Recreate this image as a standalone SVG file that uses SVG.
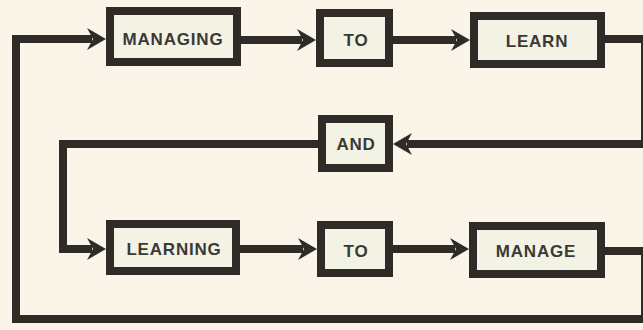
<svg xmlns="http://www.w3.org/2000/svg" width="643" height="330" viewBox="0 0 643 330">
<style>
.bg{fill:#fbf4e8}
.box{fill:#f3f3e5;stroke:#2f2b27;stroke-width:8}
.lbl{font-family:"Liberation Sans",Arial,sans-serif;font-weight:bold;font-size:17px;letter-spacing:0.8px;fill:#3b3936;text-anchor:middle}
.wire{fill:none;stroke:#2f2b27;stroke-width:8;stroke-linejoin:miter;stroke-linecap:butt}
.head{fill:#2f2b27}
</style>
<defs>
<path id="ah" d="M0,0 L-19,-11 L-13,0 L-19,11 Z"/>
</defs>
<rect class="bg" x="0" y="0" width="643" height="330"/>
<g id="connectors">
<path class="wire" d="M92,39 L16,39 L16,319 L645,319 L645,251 L605,251"/>
<path class="wire" d="M241,40 L302,40"/>
<path class="wire" d="M393,40 L456,40"/>
<path class="wire" d="M605,39 L645,39 L645,144 L407,144"/>
<path class="wire" d="M318,144 L63,144 L63,249 L92,249"/>
<path class="wire" d="M240,249 L303,249"/>
<path class="wire" d="M393,249 L455,249"/>
<use href="#ah" class="head" transform="translate(106,39)"/>
<use href="#ah" class="head" transform="translate(316,40)"/>
<use href="#ah" class="head" transform="translate(470,40)"/>
<use href="#ah" class="head" transform="translate(393,144) rotate(180)"/>
<use href="#ah" class="head" transform="translate(106,249)"/>
<use href="#ah" class="head" transform="translate(317,249)"/>
<use href="#ah" class="head" transform="translate(469,249)"/>
</g>
<g id="managing">
<rect class="box" x="110" y="11" width="127" height="51"/>
<text class="lbl" x="173" y="45">MANAGING</text>
</g>
<g id="to1">
<rect class="box" x="320" y="13" width="69" height="50"/>
<text class="lbl" x="356" y="46">TO</text>
</g>
<g id="learn">
<rect class="box" x="474" y="16" width="127" height="48"/>
<text class="lbl" x="537" y="47">LEARN</text>
</g>
<g id="and">
<rect class="box" x="322" y="119" width="67" height="49"/>
<text class="lbl" x="356" y="150">AND</text>
</g>
<g id="learning">
<rect class="box" x="110" y="224" width="126" height="47"/>
<text class="lbl" x="174" y="255">LEARNING</text>
</g>
<g id="to2">
<rect class="box" x="321" y="225" width="68" height="48"/>
<text class="lbl" x="356" y="257">TO</text>
</g>
<g id="manage">
<rect class="box" x="473" y="226" width="128" height="48"/>
<text class="lbl" x="536" y="257">MANAGE</text>
</g>
</svg>
